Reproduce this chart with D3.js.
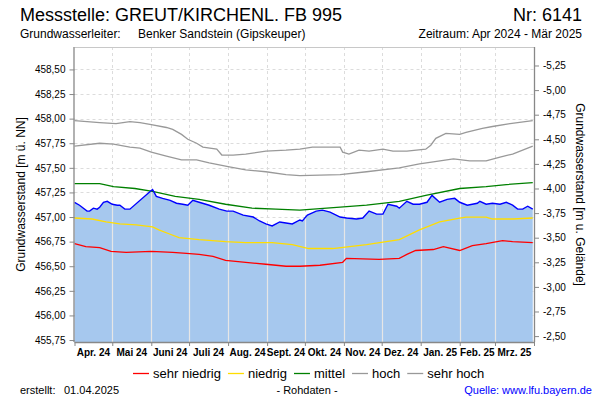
<!DOCTYPE html>
<html><head><meta charset="utf-8">
<script src="https://cdn.jsdelivr.net/npm/d3@7"></script>
<style>body{margin:0;background:#fff}svg{display:block}text{font-family:"Liberation Sans",Arial,sans-serif}</style>
</head><body><svg id="c" width="600" height="400"></svg>
<script>
// ---- data ----
const monthLabels = ["Apr. 24","Mai 24","Juni 24","Juli 24","Aug. 24","Sept. 24","Okt. 24","Nov. 24","Dez. 24","Jan. 25","Feb. 25","Mrz. 25"];
const leftTicks = [455.75,456.00,456.25,456.50,456.75,457.00,457.25,457.50,457.75,458.00,458.25,458.50];
const rightTicks = [-2.50,-2.75,-3.00,-3.25,-3.50,-3.75,-4.00,-4.25,-4.50,-4.75,-5.00,-5.25];
const groundLevel = 453.29;

const blueDates = ["2024-04-01","2024-04-05","2024-04-11","2024-04-13","2024-04-16","2024-04-19","2024-04-21","2024-04-24","2024-04-27","2024-05-01","2024-05-05","2024-05-07","2024-05-11","2024-05-15","2024-06-01","2024-06-02","2024-06-05","2024-06-10","2024-06-16","2024-06-21","2024-06-26","2024-06-30","2024-07-04","2024-07-09","2024-07-17","2024-07-25","2024-07-31","2024-08-05","2024-08-13","2024-08-21","2024-08-26","2024-08-31","2024-09-05","2024-09-11","2024-09-16","2024-09-21","2024-09-27","2024-09-29","2024-10-03","2024-10-10","2024-10-15","2024-10-21","2024-10-29","2024-11-03","2024-11-11","2024-11-16","2024-11-21","2024-11-27","2024-12-02","2024-12-06","2024-12-13","2024-12-15","2024-12-21","2024-12-26","2024-12-31","2025-01-06","2025-01-10","2025-01-16","2025-01-22","2025-01-28","2025-02-01","2025-02-07","2025-02-15","2025-02-17","2025-02-22","2025-02-27","2025-03-05","2025-03-10","2025-03-15","2025-03-19","2025-03-23","2025-03-27","2025-03-31"];
const blueValues = [457.15,457.12,457.06,457.06,457.09,457.08,457.10,457.15,457.16,457.13,457.12,457.12,457.08,457.08,457.27,457.28,457.21,457.19,457.17,457.14,457.13,457.12,457.17,457.15,457.12,457.08,457.06,457.06,457.02,457.00,456.96,456.93,456.91,456.95,456.94,456.93,456.97,456.96,457.02,457.06,457.07,457.05,457.00,456.99,456.98,456.99,457.06,457.03,457.03,457.13,457.11,457.09,457.16,457.13,457.13,457.15,457.22,457.15,457.18,457.19,457.15,457.12,457.14,457.16,457.13,457.14,457.13,457.15,457.12,457.08,457.08,457.11,457.08];

const sehrHochDates = ["2024-04-01","2024-04-21","2024-05-04","2024-05-15","2024-05-23","2024-06-01","2024-06-13","2024-06-18","2024-06-25","2024-06-30","2024-07-07","2024-07-12","2024-07-23","2024-07-27","2024-08-05","2024-08-15","2024-08-31","2024-09-16","2024-09-27","2024-10-07","2024-10-29","2024-10-31","2024-11-05","2024-11-13","2024-11-21","2024-12-02","2024-12-10","2024-12-21","2025-01-05","2025-01-09","2025-01-13","2025-01-21","2025-02-01","2025-02-06","2025-02-19","2025-02-27","2025-03-13","2025-03-31"];
const sehrHochValues = [457.98,457.96,457.95,457.97,457.96,457.94,457.91,457.89,457.84,457.79,457.75,457.71,457.69,457.63,457.63,457.64,457.67,457.68,457.69,457.71,457.71,457.66,457.64,457.68,457.67,457.69,457.67,457.67,457.69,457.73,457.80,457.85,457.84,457.86,457.90,457.92,457.95,457.98];

const hochDates = ["2024-04-01","2024-04-21","2024-05-02","2024-05-15","2024-05-23","2024-06-01","2024-06-13","2024-06-25","2024-07-07","2024-07-17","2024-08-02","2024-08-15","2024-08-31","2024-09-16","2024-09-27","2024-10-29","2024-11-19","2024-12-15","2024-12-31","2025-01-11","2025-01-27","2025-02-09","2025-02-22","2025-03-05","2025-03-15","2025-03-31"];
const hochValues = [457.72,457.75,457.74,457.71,457.70,457.66,457.62,457.58,457.58,457.55,457.51,457.48,457.46,457.43,457.42,457.43,457.46,457.50,457.54,457.56,457.59,457.57,457.57,457.61,457.64,457.72];

const mittelDates = ["2024-04-01","2024-04-21","2024-05-02","2024-05-19","2024-06-02","2024-06-20","2024-07-09","2024-07-30","2024-08-20","2024-09-08","2024-09-27","2024-10-29","2024-11-19","2024-12-15","2025-01-05","2025-02-01","2025-02-22","2025-03-10","2025-03-31"];
const mittelValues = [457.34,457.34,457.31,457.29,457.26,457.21,457.18,457.13,457.09,457.08,457.07,457.10,457.12,457.16,457.22,457.29,457.31,457.33,457.35];

const niedrigDates = ["2024-04-01","2024-04-15","2024-04-26","2024-05-07","2024-05-20","2024-06-02","2024-06-07","2024-06-15","2024-06-23","2024-07-09","2024-07-30","2024-08-15","2024-09-05","2024-09-21","2024-10-04","2024-10-23","2024-11-19","2024-12-15","2024-12-31","2025-01-16","2025-02-01","2025-02-06","2025-02-22","2025-02-27","2025-03-15","2025-03-31"];
const niedrigValues = [456.99,456.98,456.95,456.93,456.92,456.90,456.87,456.83,456.79,456.77,456.75,456.74,456.74,456.72,456.68,456.68,456.72,456.77,456.87,456.95,456.99,457.00,457.00,456.98,456.98,456.99];

const sehrNiedrigDates = ["2024-04-01","2024-04-10","2024-04-21","2024-04-30","2024-05-12","2024-06-01","2024-06-18","2024-06-29","2024-07-09","2024-07-20","2024-07-30","2024-08-15","2024-08-31","2024-09-16","2024-09-27","2024-10-13","2024-10-31","2024-11-03","2024-11-29","2024-12-15","2024-12-21","2024-12-28","2025-01-11","2025-01-19","2025-02-01","2025-02-11","2025-02-22","2025-03-07","2025-03-15","2025-03-31"];
const sehrNiedrigValues = [456.73,456.70,456.69,456.65,456.64,456.65,456.64,456.63,456.62,456.60,456.56,456.54,456.52,456.50,456.50,456.51,456.54,456.58,456.57,456.58,456.62,456.66,456.67,456.70,456.66,456.71,456.73,456.76,456.75,456.74];

const legendLabels = ["sehr niedrig","niedrig","mittel","hoch","sehr hoch"];
const legendColors = ["#ff0000","#ffdd00","#008000","#999999","#999999"];

// ---- drawing ----
const svg = d3.select("#c");
const X0 = 74.5, X1 = 534, Y0 = 47, Y1 = 342;
const parse = d3.utcParse("%Y-%m-%d");
const start = parse("2024-04-01"), end = parse("2025-04-01");
const x = d3.scaleUtc().domain([start, end]).range([X0, X1]);
const y = d3.scaleLinear().domain([455.73, 458.728]).range([Y1, Y0]);
const yr = d3.scaleLinear().domain([groundLevel - 455.73, groundLevel - 458.728]).range([Y1, Y0]);
const fmt = v => v.toFixed(2).replace(".", ",");
const months = d3.utcMonth.range(start, d3.utcDay.offset(end, 1));

const toPts = (ds, vs) => ds.map((d, i) => ({d: parse(d), v: vs[i]}));
const line = d3.line().x(p => x(p.d)).y(p => y(p.v));

// grid (dashed)
const g = svg.append("g");
g.selectAll(".hg").data(leftTicks).join("line")
  .attr("x1", X0).attr("x2", X1).attr("y1", d => Math.round(y(d)) + 0.5).attr("y2", d => Math.round(y(d)) + 0.5)
  .attr("stroke", "#dcdcdc").attr("stroke-dasharray", "3,3");
g.selectAll(".vg").data(months.slice(1, -1)).join("line")
  .attr("x1", d => Math.round(x(d)) + 0.5).attr("x2", d => Math.round(x(d)) + 0.5).attr("y1", Y0).attr("y2", Y1)
  .attr("stroke", "#dcdcdc").attr("stroke-dasharray", "3,3");

// area
const blue = toPts(blueDates, blueValues);
const area = d3.area().x(p => x(p.d)).y0(Y1).y1(p => y(p.v));
svg.append("clipPath").attr("id", "ac").append("path").attr("d", area(blue));
svg.append("path").attr("d", area(blue)).attr("fill", "#a6c8ee");
svg.append("g").attr("clip-path", "url(#ac)").selectAll("line").data(months.slice(1, -1)).join("line")
  .attr("x1", d => Math.round(x(d)) + 0.5).attr("x2", d => Math.round(x(d)) + 0.5).attr("y1", Y0).attr("y2", Y1)
  .attr("stroke", "#e6e6e6").attr("stroke-width", 1.2);

// stat lines
const series = [
  [sehrHochDates, sehrHochValues, legendColors[4]],
  [hochDates, hochValues, legendColors[3]],
  [mittelDates, mittelValues, legendColors[2]],
  [niedrigDates, niedrigValues, legendColors[1]],
  [sehrNiedrigDates, sehrNiedrigValues, legendColors[0]]
];
series.forEach(([ds, vs, c]) => {
  svg.append("path").attr("d", line(toPts(ds, vs))).attr("fill", "none").attr("stroke", c).attr("stroke-width", 1.3);
});
svg.append("path").attr("d", line(blue)).attr("fill", "none").attr("stroke", "#0000ff").attr("stroke-width", 1.4);

// frame
svg.append("line").attr("x1", X0).attr("x2", X1).attr("y1", Y0 + 0.5).attr("y2", Y0 + 0.5).attr("stroke", "#c8c8c8");
// axes
const axL = svg.append("g").attr("transform", `translate(${X0},0)`)
  .call(d3.axisLeft(y).tickValues(leftTicks).tickFormat(fmt).tickSize(5).tickPadding(4));
const axR = svg.append("g").attr("transform", `translate(${X1},0)`)
  .call(d3.axisRight(yr).tickValues(rightTicks).tickFormat(fmt).tickSize(5).tickPadding(4));
const axB = svg.append("g").attr("transform", `translate(0,${Y1})`)
  .call(d3.axisBottom(x).tickValues(months).tickFormat("").tickSize(4));
[axL, axR, axB].forEach(a => {
  a.select(".domain").attr("stroke", "#888").attr("stroke-width", 1.3);
  a.selectAll(".tick line").attr("stroke", "#888");
  a.selectAll("text").attr("font-size", 10).attr("fill", "#000").attr("font-family", '"Liberation Sans",Arial,sans-serif');
});
axB.select(".domain").attr("d", `M${X0},0.5H${X1}`);
axL.select(".domain").attr("d", `M-0.5,${Y0}V${Y1}`);
axR.select(".domain").attr("d", `M0.5,${Y0}V${Y1}`);

// month labels centered in month intervals
svg.selectAll(".ml").data(monthLabels).join("text")
  .attr("x", (d, i) => (x(months[i]) + x(months[i + 1])) / 2).attr("y", 356)
  .attr("text-anchor", "middle").attr("font-size", 10).attr("font-weight", "bold").text(d => d);

// titles
svg.append("text").attr("x", 20).attr("y", 21).attr("font-size", 18).text("Messstelle: GREUT/KIRCHENL. FB 995");
svg.append("text").attr("x", 582).attr("y", 21).attr("font-size", 18).attr("text-anchor", "end").text("Nr: 6141");
svg.append("text").attr("x", 20).attr("y", 38).attr("font-size", 12).text("Grundwasserleiter:");
svg.append("text").attr("x", 138).attr("y", 38).attr("font-size", 12).text("Benker Sandstein (Gipskeuper)");
svg.append("text").attr("x", 582).attr("y", 38).attr("font-size", 12).attr("text-anchor", "end").text("Zeitraum: Apr 2024 - Mär 2025");
svg.append("text").attr("transform", `translate(25,${(Y0 + Y1) / 2}) rotate(-90)`).attr("text-anchor", "middle").attr("font-size", 12).text("Grundwasserstand [m ü. NN]");
svg.append("text").attr("transform", `translate(576,${(Y0 + Y1) / 2}) rotate(90)`).attr("text-anchor", "middle").attr("font-size", 12).text("Grundwasserstand [m u. Gelände]");

// legend
const lg = svg.append("g");
let cx = 0;
legendLabels.forEach((lab, i) => {
  lg.append("line").attr("x1", cx).attr("x2", cx + 16).attr("y1", 373.5).attr("y2", 373.5).attr("stroke", legendColors[i]).attr("stroke-width", 1.3);
  const t = lg.append("text").attr("x", cx + 20).attr("y", 378).attr("font-size", 13).text(lab);
  cx += 20 + t.node().getComputedTextLength() + 7;
});
lg.attr("transform", `translate(${133},0)`);

// footer
svg.append("text").attr("x", 20).attr("y", 394).attr("font-size", 11).text("erstellt:");
svg.append("text").attr("x", 64).attr("y", 394).attr("font-size", 11).text("01.04.2025");
svg.append("text").attr("x", 307).attr("y", 394).attr("font-size", 11).attr("text-anchor", "middle").text("- Rohdaten -");
svg.append("text").attr("x", 592).attr("y", 394).attr("font-size", 11).attr("text-anchor", "end").attr("fill", "#0000ff").text("Quelle: www.lfu.bayern.de");
</script></body></html>
